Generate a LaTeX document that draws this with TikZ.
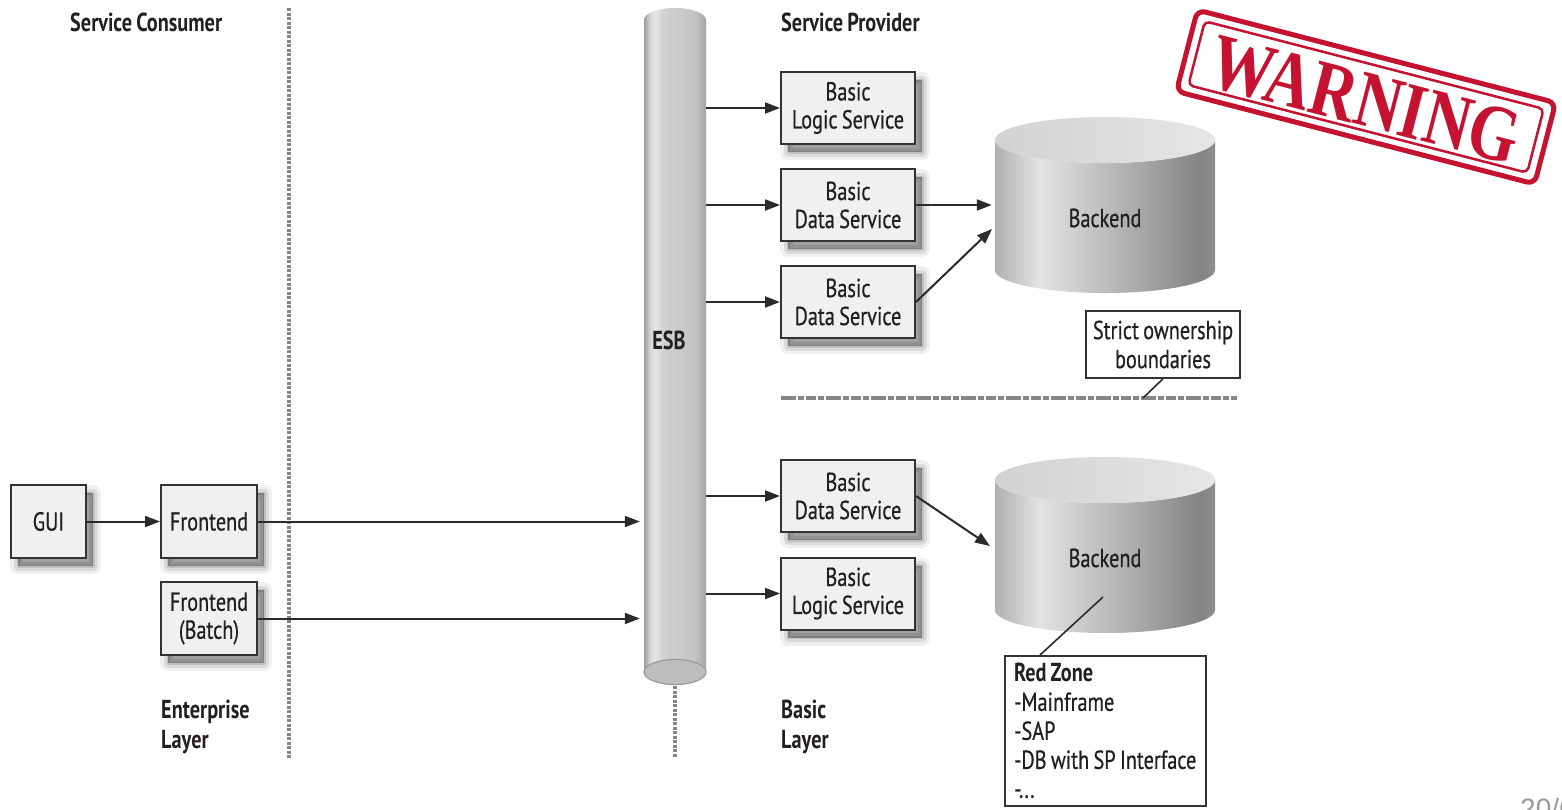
\documentclass[tikz,border=0pt]{standalone}
\usepackage{fontspec}
\setmainfont{PT Sans}[FakeStretch=0.78, WordSpace=0.8, UprightFeatures={FakeBold=0.6}]
\newfontfamily\stampfont{Liberation Serif}[FakeStretch=0.8]
\newfontfamily\pagefont{Liberation Sans}
\usetikzlibrary{arrows.meta,calc}

\definecolor{txt}{HTML}{231F20}
\definecolor{boxfill}{HTML}{F0F0F0}
\definecolor{boxline}{HTML}{333333}
\definecolor{arrcol}{HTML}{2A2A2A}
\definecolor{sepcol}{HTML}{858585}
\definecolor{esbbot}{HTML}{BDBDBD}
\definecolor{esbedge}{HTML}{9A9A9A}
\definecolor{stampred}{HTML}{C41230}
\definecolor{pagegray}{HTML}{9A9A9A}
\definecolor{esbA}{HTML}{9E9E9E}
\definecolor{esbB}{HTML}{D6D6D6}
\definecolor{esbC}{HTML}{E6E6E6}
\definecolor{esbD}{HTML}{D0D0D0}
\definecolor{esbE}{HTML}{C4C4C4}
\definecolor{esbF}{HTML}{A4A4A4}
\definecolor{beA}{HTML}{B0B0B0}
\definecolor{beB}{HTML}{E3E3E3}
\definecolor{beC}{HTML}{BDBDBD}
\definecolor{beD}{HTML}{959595}
\definecolor{beE}{HTML}{848484}
\definecolor{beF}{HTML}{909090}
\definecolor{betopL}{HTML}{D2D2D2}
\definecolor{betopR}{HTML}{E6E6E6}

\pgfdeclarehorizontalshading{esbsh}{100bp}{color(0bp)=(esbA); color(25bp)=(esbA); color(30bp)=(esbB); color(34bp)=(esbC); color(41bp)=(esbD); color(66bp)=(esbE); color(75bp)=(esbF); color(100bp)=(esbF)}
\pgfdeclarehorizontalshading{besh}{100bp}{color(0bp)=(beA); color(25bp)=(beA); color(35bp)=(beB); color(50bp)=(beC); color(65bp)=(beD); color(72bp)=(beE); color(75bp)=(beF); color(100bp)=(beF)}

\tikzset{
  every node/.append style={text=txt},
  softshadow/.style={
    preaction={transform canvas={shift={(7pt,-8pt)}}, draw=black, draw opacity=0.06, line width=16pt, fill=black, fill opacity=0.33, line join=round},
    preaction={transform canvas={shift={(7pt,-8pt)}}, draw=black, draw opacity=0.09, line width=9pt, line join=round},
    preaction={transform canvas={shift={(7pt,-8pt)}}, draw=black, draw opacity=0.12, line width=3pt, line join=round}},
  box/.style={softshadow, draw=boxline, line width=2pt, fill=boxfill, inner sep=0pt,
    align=center, font=\fontsize{26}{28}\selectfont},
  svc/.style={box, minimum width=134pt, minimum height=72pt},
  note/.style={draw=boxline, line width=1.5pt, fill=white, inner sep=4pt,
    font=\fontsize{26}{29}\selectfont},
  head/.style={font=\fontsize{26}{30}\selectfont\bfseries, inner sep=0pt, align=left, anchor=west},
  plain/.style={font=\fontsize{26}{30}\selectfont, inner sep=0pt},
  arr/.style={draw=arrcol, line width=2pt, -{Triangle[length=15pt,width=11pt]}},
  leader/.style={draw=arrcol, line width=1.6pt},
  sepline/.style={draw=sepcol, line width=4pt, dash pattern=on 3pt off 1.5pt},
  owndash/.style={draw=sepcol, line width=3.5pt, dash pattern=on 15pt off 2pt on 6pt off 2pt on 10pt off 2pt on 6pt off 2pt},
}

\begin{document}
\begin{tikzpicture}[x=1pt,y=-1pt]
\useasboundingbox (0,0) rectangle (1562,809);
\clip (0,0) rectangle (1562,809);
\fill[white] (0,0) rectangle (1562,809);

% headings
\node[head] (hcons) at (70,22) {Service Consumer};
\node[head] (hprov) at (781,22) {Service Provider};
\node[head, anchor=north west] (hent) at (161,700) {Enterprise\\Layer};
\node[head, anchor=north west] (hbas) at (781,700) {Basic\\Layer};

% consumer separator
\coordinate (sepT) at (289,8);
\coordinate (sepB) at (289,758);
\draw[sepline] (sepT) -- (sepB);

% ESB cylinder
\shade[shading=esbsh] (644,672) -- (644,20) arc[start angle=180,end angle=0,x radius=31pt,y radius=12pt]
  -- (706,672) arc[start angle=0,end angle=-180,x radius=31pt,y radius=12.5pt] -- cycle;
\filldraw[fill=esbbot, draw=esbedge, line width=1.2pt] (675,672) ellipse[x radius=31pt, y radius=12.5pt];
\node[inner sep=0pt, minimum width=62pt, minimum height=664pt] (esb) at (675,340) {};
\node[plain, font=\fontsize{26}{30}\selectfont\bfseries] (esbl) at (669,340) {ESB};
\coordinate (esbtailT) at (675,686);
\coordinate (esbtailB) at (675,758);
\draw[sepline] (esbtailT) -- (esbtailB);

% Backend cylinders
\foreach \dy in {0,340}{
  \begin{scope}[shift={(0,\dy)}]
  \shade[shading=besh] (995,140) -- (995,270) arc[start angle=180,end angle=360,x radius=110pt,y radius=23pt]
    -- (1215,140) arc[start angle=0,end angle=-180,x radius=110pt,y radius=23pt] -- cycle;
  \shade[left color=betopL, right color=betopR] (1105,140) ellipse[x radius=110pt, y radius=23pt];
  \end{scope}
}
\node[inner sep=0pt, minimum width=220pt, minimum height=176pt] (be1) at (1105,205) {};
\node[inner sep=0pt, minimum width=220pt, minimum height=176pt] (be2) at (1105,545) {};
\node[plain] (be1t) at (1105,218) {Backend};
\node[plain] (be2t) at (1105,558) {Backend};

% service boxes
\node[svc] (lbs1) at (848,108) {Basic\\Logic Service};
\node[svc] (ds1) at (848,205) {Basic\\Data Service};
\node[svc] (ds2) at (848,302) {Basic\\Data Service};
\node[svc] (ds3) at (848,496) {Basic\\Data Service};
\node[svc] (lbs2) at (848,593.5) {Basic\\Logic Service};

% consumer boxes
\node[box, minimum width=75pt, minimum height=73pt] (gui) at (48.5,521.5) {GUI};
\node[box, minimum width=96pt, minimum height=73pt] (fe) at (209,521.5) {Frontend};
\node[box, minimum width=96pt, minimum height=73pt] (feb) at (209,618.5) {Frontend\\(Batch)};

% arrows ESB -> services
\foreach \t in {lbs1,ds1,ds2,ds3,lbs2}{
  \draw[arr] (esb.east |- \t.west) -- (\t.west);
}
% consumer arrows
\draw[arr] (gui.east) -- (fe.west);
\draw[arr, shorten >=4pt] (fe.east) -- (esb.west |- fe.east);
\draw[arr, shorten >=4pt] (feb.east) -- (esb.west |- feb.east);

% services -> backends
\coordinate (be1in) at (992,229);
\coordinate (be2in) at (990,546);
\draw[arr, shorten >=3pt] (ds1.east) -- (be1.west);
\draw[arr] (ds2.east) -- (be1in);
\draw[arr] (ds3.east) -- (be2in);

% ownership boundary
\coordinate (ownL) at (781,398);
\coordinate (ownR) at (1237,398);
\draw[owndash] (ownL) -- (ownR);
\node[note, align=center, minimum width=154pt, minimum height=67pt, inner sep=0pt] (sob) at (1163,344.5) {Strict ownership\\boundaries};
\coordinate (owntick) at (1143,398);
\draw[leader] (sob.south) -- (owntick);

% red zone
\node[note, anchor=north west, align=left, minimum width=201pt, minimum height=150pt] (rz) at (1004,655)
  {\textbf{Red Zone}\\-Mainframe\\-SAP\\-DB with SP Interface\\-...};
\coordinate (be2p) at (1103,597);
\draw[leader] (be2p) -- ($(rz.north west)+(36,0)$);

% warning stamp
\begin{scope}[shift={(1366,97)}, rotate=-14.5]
  \draw[stampred, line width=5pt, rounded corners=8pt] (-185,-42) rectangle (185,42);
  \draw[stampred, line width=2.5pt, rounded corners=5pt] (-175,-33) rectangle (175,33);
  \node[transform shape, text=stampred, font=\stampfont\bfseries\fontsize{80}{80}\selectfont, inner sep=0pt] (warn) at (0,3) {WARNING};
\end{scope}

% page number (cut off)
\node[font=\pagefont\fontsize{28}{28}\selectfont, text=pagegray, anchor=base west, inner sep=0pt] (pg) at (1520,818) {20/6};
\end{tikzpicture}
\end{document}
